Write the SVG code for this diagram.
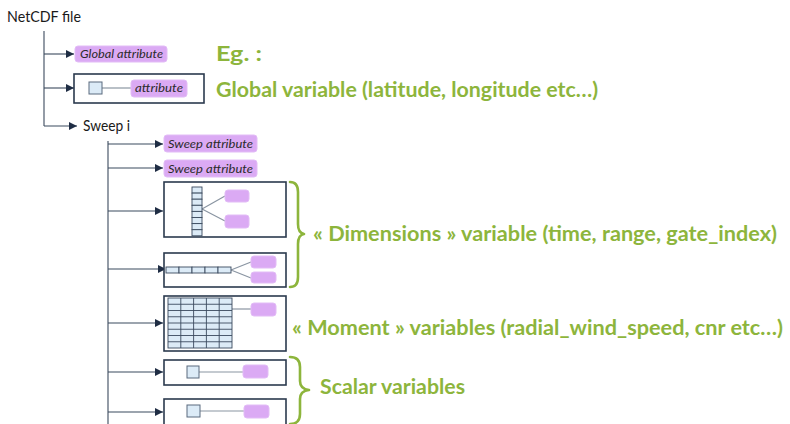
<svg xmlns="http://www.w3.org/2000/svg" width="790" height="424" viewBox="0 0 790 424">
<style>
.bg{fill:#ffffff}
.lbl{font-family:Lato,"Open Sans","DejaVu Sans",sans-serif;font-size:15px;fill:#1a1a1a}
.pill{fill:#dbaaf4;stroke:#e2bcf6;stroke-width:1}
.pt{font-family:Lato,"Open Sans","DejaVu Sans",sans-serif;font-size:12px;font-style:italic;fill:#2a2a2a}
.box{fill:#ffffff;stroke:#2b3a4e;stroke-width:1.6}
.cell{fill:#dcebf7;stroke:#3a4a5e;stroke-width:0.9}
.sq{fill:#dcebf7;stroke:#5a6a7e;stroke-width:1}
.gl{stroke:#8a95a2;stroke-width:1.2;fill:none}
.con{stroke:#3b4a5e;stroke-width:1.1;fill:none}
.green{font-family:Lato,"Open Sans","DejaVu Sans",sans-serif;font-weight:bold;font-size:20px;fill:#8db53c}
.brace{fill:none;stroke:#8db53c;stroke-width:2.6;stroke-linecap:round;stroke-linejoin:round}
</style>
<defs>
<marker id="arr" viewBox="0 0 10 10" refX="10" refY="5" markerWidth="8" markerHeight="8" markerUnits="userSpaceOnUse" orient="auto">
<path d="M0,0 L10,5 L0,10 z" fill="#1f2d44"/>
</marker>
</defs>
<rect class="bg" x="0" y="0" width="790" height="424"/>

<g id="connectors">
<path class="con" d="M44,31 L44,126"/>
<path class="con" d="M44,54 L74,54" marker-end="url(#arr)"/>
<path class="con" d="M44,88 L74,88" marker-end="url(#arr)"/>
<path class="con" d="M44,126 L77,126" marker-end="url(#arr)"/>
<path class="con" d="M108,141 L108,424"/>
<path class="con" d="M108,144 L163,144" marker-end="url(#arr)"/>
<path class="con" d="M108,168 L163,168" marker-end="url(#arr)"/>
<path class="con" d="M108,211 L163,211" marker-end="url(#arr)"/>
<path class="con" d="M108,269 L166,269" marker-end="url(#arr)"/>
<path class="con" d="M108,323 L163,323" marker-end="url(#arr)"/>
<path class="con" d="M108,372 L163,372" marker-end="url(#arr)"/>
<path class="con" d="M108,412 L163,412" marker-end="url(#arr)"/>
</g>

<g id="netcdf-file">
<text class="lbl" x="7" y="22" textLength="74" lengthAdjust="spacingAndGlyphs">NetCDF file</text>
</g>

<g id="global-attribute">
<rect class="pill" x="75" y="46" width="92" height="16" rx="3"/>
<text class="pt" x="80" y="58" textLength="83" lengthAdjust="spacingAndGlyphs">Global attribute</text>
</g>

<g id="global-variable">
<rect class="box" x="74" y="74" width="130" height="29"/>
<path class="gl" d="M102,88 L131,88"/>
<rect class="sq" x="89" y="82" width="13" height="12"/>
<rect class="pill" x="131" y="80" width="56" height="17" rx="3"/>
<text class="pt" x="135" y="92" textLength="48" lengthAdjust="spacingAndGlyphs">attribute</text>
</g>

<g id="sweep">
<text class="lbl" x="83" y="131" textLength="47" lengthAdjust="spacingAndGlyphs">Sweep i</text>
</g>

<g id="sweep-attribute-1">
<rect class="pill" x="164" y="135" width="93" height="17" rx="3"/>
<text class="pt" x="168" y="148" textLength="85" lengthAdjust="spacingAndGlyphs">Sweep attribute</text>
</g>

<g id="sweep-attribute-2">
<rect class="pill" x="164" y="160" width="93" height="17" rx="3"/>
<text class="pt" x="168" y="173" textLength="85" lengthAdjust="spacingAndGlyphs">Sweep attribute</text>
</g>

<g id="dimension-vertical">
<rect class="box" x="164" y="182" width="122" height="55"/>
<path class="gl" d="M202,209 L225,196 M202,209 L225,221"/>
<g>
<rect class="cell" x="192" y="187" width="10" height="6.1"/>
<rect class="cell" x="192" y="193.1" width="10" height="6.1"/>
<rect class="cell" x="192" y="199.2" width="10" height="6.1"/>
<rect class="cell" x="192" y="205.3" width="10" height="6.1"/>
<rect class="cell" x="192" y="211.4" width="10" height="6.1"/>
<rect class="cell" x="192" y="217.5" width="10" height="6.1"/>
<rect class="cell" x="192" y="223.6" width="10" height="6.1"/>
<rect class="cell" x="192" y="229.7" width="10" height="6.1"/>
</g>
<rect class="pill" x="225" y="190" width="24" height="12" rx="3"/>
<rect class="pill" x="225" y="215" width="24" height="13" rx="3"/>
</g>

<g id="dimension-horizontal">
<rect class="box" x="164" y="253" width="122" height="34"/>
<path class="gl" d="M231,270 L251,262 M231,270 L251,278"/>
<g>
<rect class="cell" x="166" y="267" width="13" height="6"/>
<rect class="cell" x="179" y="267" width="13" height="6"/>
<rect class="cell" x="192" y="267" width="13" height="6"/>
<rect class="cell" x="205" y="267" width="13" height="6"/>
<rect class="cell" x="218" y="267" width="13" height="6"/>
</g>
<rect class="pill" x="251" y="256" width="25" height="12" rx="3"/>
<rect class="pill" x="251" y="272" width="25" height="11" rx="3"/>
</g>

<g id="moment-variable">
<rect class="box" x="164" y="296" width="122" height="55"/>
<path class="gl" d="M232,309 L251,309"/>
<g>
<rect class="cell" x="168" y="298" width="64" height="50"/>
<path stroke="#3a4a5e" stroke-width="0.9" fill="none" d="M180.8,298 V348 M193.6,298 V348 M206.4,298 V348 M219.2,298 V348 M168,304.25 H232 M168,310.5 H232 M168,316.75 H232 M168,323 H232 M168,329.25 H232 M168,335.5 H232 M168,341.75 H232"/>
</g>
<rect class="pill" x="251" y="303" width="25" height="13" rx="3"/>
</g>

<g id="scalar-variable-1">
<rect class="box" x="164" y="360" width="122" height="25"/>
<path class="gl" d="M199,372 L243,372"/>
<rect class="sq" x="187" y="366" width="12" height="12"/>
<rect class="pill" x="243" y="365" width="25" height="13" rx="3"/>
</g>

<g id="scalar-variable-2">
<rect class="box" x="164" y="399" width="122" height="32"/>
<path class="gl" d="M200,411 L244,411"/>
<rect class="sq" x="187" y="405" width="13" height="12"/>
<rect class="pill" x="244" y="405" width="25" height="13" rx="3"/>
</g>

<g id="annotations">
<text class="green" x="216" y="61" textLength="46" lengthAdjust="spacingAndGlyphs">Eg. :</text>
<text class="green" x="216" y="97" textLength="382" lengthAdjust="spacingAndGlyphs">Global variable (latitude, longitude etc…)</text>
<path class="brace" d="M290,182 Q298,182 298,192 L298,224 Q298,233 304,234 Q298,235 298,244 L298,277 Q298,287 290,287"/>
<text class="green" x="313" y="241" textLength="464" lengthAdjust="spacingAndGlyphs">« Dimensions » variable (time, range, gate_index)</text>
<text class="green" x="292" y="335" textLength="491" lengthAdjust="spacingAndGlyphs">« Moment » variables (radial_wind_speed, cnr etc…)</text>
<path class="brace" d="M290,357 Q300,357 300,367 L300,381 Q300,389 309,390 Q300,391 300,399 L300,414 Q300,424 290,424"/>
<text class="green" x="320" y="394" textLength="145" lengthAdjust="spacingAndGlyphs">Scalar variables</text>
</g>
</svg>
